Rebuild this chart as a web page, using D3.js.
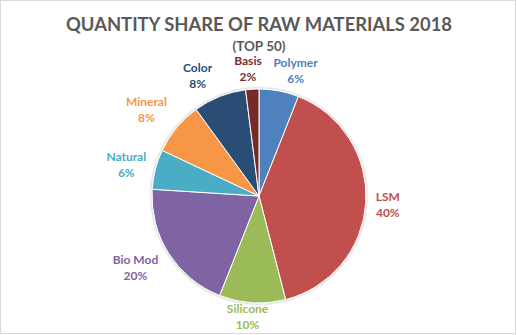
<!DOCTYPE html>
<html><head><meta charset="utf-8">
<script src="https://cdn.jsdelivr.net/npm/d3@7"></script>
<style>
html,body{margin:0;padding:0;background:#fff;}
svg{display:block;}
text{font-family:Lato,"Open Sans",sans-serif;font-weight:bold;}
</style></head>
<body><svg id="chart" width="517" height="335"></svg>
<script>
const categories = ["Polymer","LSM","Silicone","Bio Mod","Natural","Mineral","Color","Basis"];
const shares = [6,40,10,20,6,8,8,2];
const colors = ["#4F81BD","#C0504D","#9BBB59","#8064A2","#4BACC6","#F79646","#2C4D75","#772C2A"];
const titleText = "QUANTITY SHARE OF RAW MATERIALS 2018";
const subtitleText = "(TOP 50)";

const W = 517, H = 335;
const cx = 259, cy = 196, r = 107;
// layout nudges for label boxes (Excel best-fit spreading)
const labelNudge = [[11,0],[3,1],[-3,-6],[-8,4],[-3,1],[-9,-5],[-14,-2],[-3,0]];

const svg = d3.select("#chart");
svg.append("rect").attr("x",0.5).attr("y",0.5).attr("width",W-2).attr("height",H-2)
  .attr("fill","#fff").attr("stroke","#D9D9D9");

const defs = svg.append("defs");
const f = defs.append("filter").attr("id","sh").attr("x","-20%").attr("y","-20%").attr("width","140%").attr("height","140%");
f.append("feGaussianBlur").attr("in","SourceAlpha").attr("stdDeviation",1.5).attr("result","b");
f.append("feComponentTransfer").attr("in","b").attr("result","o2").append("feFuncA").attr("type","linear").attr("slope",0.35);
const m = f.append("feMerge"); m.append("feMergeNode").attr("in","o2"); m.append("feMergeNode").attr("in","SourceGraphic");

svg.append("text").attr("x",259).attr("y",31).attr("text-anchor","middle")
  .attr("fill","#595959").style("font-size","19px")
  .attr("textLength",386).attr("lengthAdjust","spacingAndGlyphs").text(titleText);
svg.append("text").attr("x",259).attr("y",51).attr("text-anchor","middle")
  .attr("fill","#595959").style("font-size","13.5px").text(subtitleText);

const pie = d3.pie().sort(null).value(d=>d)(shares);
const arc = d3.arc().innerRadius(0).outerRadius(r);
const g = svg.append("g").attr("transform",`translate(${cx},${cy})`);
g.append("g").attr("filter","url(#sh)").selectAll("path").data(pie).join("path")
  .attr("d",arc).attr("fill",(d,i)=>colors[i]).attr("stroke","#fff").attr("stroke-width",1);

const anchorArc = d3.arc().innerRadius(r+7).outerRadius(r+7);
const lh = 16;
pie.forEach((d,i)=>{
  const a = (d.startAngle+d.endAngle)/2;
  const [ax,ay] = anchorArc.centroid(d);
  const t = g.append("text").attr("text-anchor","middle").attr("fill",colors[i]).style("font-size","12px");
  t.append("tspan").attr("x",0).attr("dy",0).text(categories[i]);
  t.append("tspan").attr("x",0).attr("dy",lh).text(shares[i]+"%");
  const bb = t.node().getBBox();
  const w = bb.width, h = 26;
  const x = ax + Math.sin(a)*w/2 + labelNudge[i][0];
  const yc = ay - Math.cos(a)*h/2 + labelNudge[i][1];
  t.attr("transform",`translate(${x},${yc-4})`);
});
</script></body></html>
